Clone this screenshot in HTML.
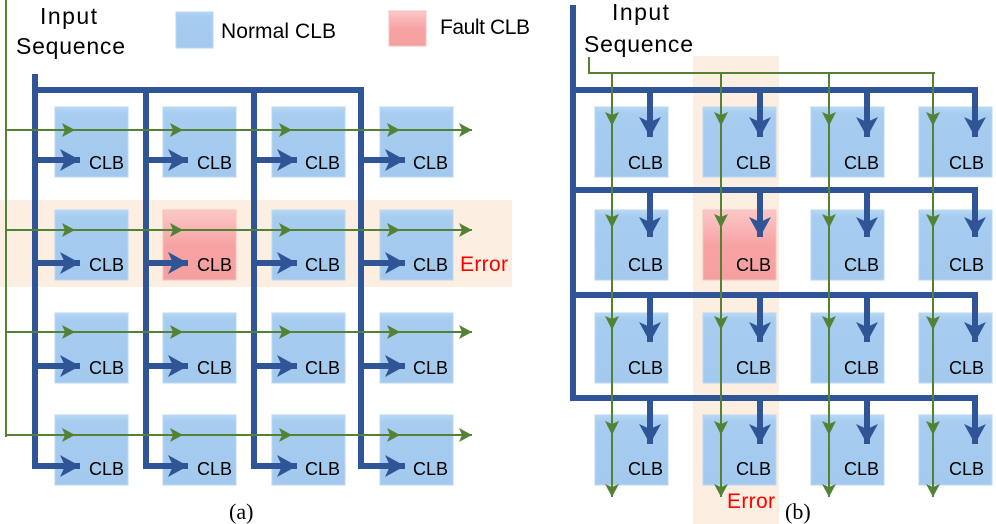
<!DOCTYPE html>
<html><head><meta charset="utf-8"><style>
html,body{margin:0;padding:0;background:#fff;}
svg{display:block;}
text{font-family:"Liberation Sans",sans-serif;}
</style></head><body>
<svg width="996" height="524" viewBox="0 0 996 524" xmlns="http://www.w3.org/2000/svg">
<defs>
<linearGradient id="bl" x1="0" y1="0" x2="0" y2="1"><stop offset="0" stop-color="#B7D8F5"/><stop offset="0.1" stop-color="#A6CCF0"/><stop offset="1" stop-color="#A3CAEE"/></linearGradient>
<linearGradient id="pk" x1="0" y1="0" x2="0" y2="1"><stop offset="0" stop-color="#FBC8C8"/><stop offset="0.5" stop-color="#F7A3A3"/><stop offset="1" stop-color="#F4A0A0"/></linearGradient>
<marker id="ba" markerUnits="userSpaceOnUse" markerWidth="22" markerHeight="24" refX="20" refY="12" orient="auto"><path d="M0,1 L20,12 L0,23 L5,12 Z" fill="#2F5597"/></marker>
<marker id="ga" markerUnits="userSpaceOnUse" markerWidth="14" markerHeight="14" refX="13" refY="7" orient="auto"><path d="M0,0 L13,7 L0,14 L3,7 Z" fill="#548235"/></marker>
</defs>
<rect x="0" y="200" width="512" height="87" fill="#FDEEE2"/>
<rect x="693" y="56" width="86" height="468" fill="#FDEEE2"/>
<rect x="176" y="12" width="37" height="36" fill="url(#bl)" stroke="#BBD7F0"/>
<text x="221" y="38" font-size="21" textLength="115">Normal CLB</text>
<rect x="389" y="11" width="37" height="35" fill="url(#pk)" stroke="#F8C0C0"/>
<text x="440" y="34" font-size="21" textLength="90">Fault CLB</text>
<text x="40" y="24" font-size="23" textLength="57">Input</text>
<text x="16" y="54" font-size="23" textLength="109">Sequence</text>
<text x="612" y="20" font-size="23" textLength="57">Input</text>
<text x="584" y="52" font-size="23" textLength="109">Sequence</text>
<g stroke="#BBD7F0" stroke-width="1" fill="url(#bl)">
<rect x="55" y="107" width="73" height="70"/><rect x="163" y="107" width="73" height="70"/><rect x="272" y="107" width="73" height="70"/><rect x="380" y="107" width="73" height="70"/>
<rect x="55" y="210" width="73" height="70"/><rect x="163" y="210" width="73" height="70" fill="url(#pk)" stroke="#F8C0C0"/><rect x="272" y="210" width="73" height="70"/><rect x="380" y="210" width="73" height="70"/>
<rect x="55" y="313" width="73" height="70"/><rect x="163" y="313" width="73" height="70"/><rect x="272" y="313" width="73" height="70"/><rect x="380" y="313" width="73" height="70"/>
<rect x="55" y="415" width="73" height="70"/><rect x="163" y="415" width="73" height="70"/><rect x="272" y="415" width="73" height="70"/><rect x="380" y="415" width="73" height="70"/>
</g>
<g stroke="#BBD7F0" stroke-width="1" fill="url(#bl)">
<rect x="595" y="107" width="73" height="70"/><rect x="703" y="107" width="73" height="70"/><rect x="811" y="107" width="73" height="70"/><rect x="919" y="107" width="73" height="70"/>
<rect x="595" y="210" width="73" height="70"/><rect x="703" y="210" width="73" height="70" fill="url(#pk)" stroke="#F8C0C0"/><rect x="811" y="210" width="73" height="70"/><rect x="919" y="210" width="73" height="70"/>
<rect x="595" y="313" width="73" height="70"/><rect x="703" y="313" width="73" height="70"/><rect x="811" y="313" width="73" height="70"/><rect x="919" y="313" width="73" height="70"/>
<rect x="595" y="415" width="73" height="70"/><rect x="703" y="415" width="73" height="70"/><rect x="811" y="415" width="73" height="70"/><rect x="919" y="415" width="73" height="70"/>
</g>
<g stroke="#2F5597" stroke-width="6" fill="none">
<path d="M35,74 V468"/><path d="M32,90 H364"/>
<path d="M146,90 V468"/><path d="M254,90 V468"/><path d="M361,90 V468"/>
</g>
<g stroke="#2F5597" stroke-width="6" marker-end="url(#ba)">
<line x1="35" y1="160" x2="80" y2="160"/><line x1="146" y1="160" x2="188" y2="160"/><line x1="254" y1="160" x2="297" y2="160"/><line x1="361" y1="160" x2="405" y2="160"/>
<line x1="35" y1="263" x2="80" y2="263"/><line x1="146" y1="263" x2="188" y2="263"/><line x1="254" y1="263" x2="297" y2="263"/><line x1="361" y1="263" x2="405" y2="263"/>
<line x1="35" y1="366" x2="80" y2="366"/><line x1="146" y1="366" x2="188" y2="366"/><line x1="254" y1="366" x2="297" y2="366"/><line x1="361" y1="366" x2="405" y2="366"/>
<line x1="32" y1="466" x2="80" y2="466"/><line x1="143" y1="466" x2="188" y2="466"/><line x1="251" y1="466" x2="297" y2="466"/><line x1="358" y1="466" x2="405" y2="466"/>
</g>
<g stroke="#548235" stroke-width="2" fill="none"><path d="M6,0 V437"/></g>
<g stroke="#548235" stroke-width="2">
<line x1="6" y1="130" x2="472" y2="130" marker-end="url(#ga)"/>
<line x1="6" y1="230" x2="472" y2="230" marker-end="url(#ga)"/>
<line x1="6" y1="332" x2="472" y2="332" marker-end="url(#ga)"/>
<line x1="6" y1="435" x2="472" y2="435" marker-end="url(#ga)"/>
</g>
<g fill="#548235">
<path d="M62,123 L75,130 L62,137 L65,130Z"/><path d="M170,123 L183,130 L170,137 L173,130Z"/><path d="M279,123 L292,130 L279,137 L282,130Z"/><path d="M387,123 L400,130 L387,137 L390,130Z"/>
<path d="M62,223 L75,230 L62,237 L65,230Z"/><path d="M170,223 L183,230 L170,237 L173,230Z"/><path d="M279,223 L292,230 L279,237 L282,230Z"/><path d="M387,223 L400,230 L387,237 L390,230Z"/>
<path d="M62,325 L75,332 L62,339 L65,332Z"/><path d="M170,325 L183,332 L170,339 L173,332Z"/><path d="M279,325 L292,332 L279,339 L282,332Z"/><path d="M387,325 L400,332 L387,339 L390,332Z"/>
<path d="M62,428 L75,435 L62,442 L65,435Z"/><path d="M170,428 L183,435 L170,442 L173,435Z"/><path d="M279,428 L292,435 L279,442 L282,435Z"/><path d="M387,428 L400,435 L387,442 L390,435Z"/>
</g>
<g stroke="#2F5597" stroke-width="6" fill="none">
<path d="M573,5 V401"/>
<path d="M570,90 H978"/><path d="M573,190 H978"/><path d="M573,295 H978"/><path d="M570,398 H978"/>
</g>
<g stroke="#2F5597" stroke-width="6" marker-end="url(#ba)">
<line x1="650" y1="90" x2="650" y2="137"/><line x1="760" y1="90" x2="760" y2="137"/><line x1="867" y1="90" x2="867" y2="137"/><line x1="975" y1="87" x2="975" y2="137"/>
<line x1="650" y1="190" x2="650" y2="237"/><line x1="760" y1="190" x2="760" y2="237"/><line x1="867" y1="190" x2="867" y2="237"/><line x1="975" y1="187" x2="975" y2="237"/>
<line x1="650" y1="295" x2="650" y2="342"/><line x1="760" y1="295" x2="760" y2="342"/><line x1="867" y1="295" x2="867" y2="342"/><line x1="975" y1="292" x2="975" y2="342"/>
<line x1="650" y1="398" x2="650" y2="444"/><line x1="760" y1="398" x2="760" y2="444"/><line x1="867" y1="398" x2="867" y2="444"/><line x1="975" y1="395" x2="975" y2="444"/>
</g>
<g stroke="#548235" stroke-width="2" fill="none"><path d="M589,57 V73 H935"/></g>
<g stroke="#548235" stroke-width="2">
<line x1="612" y1="73" x2="612" y2="497" marker-end="url(#ga)"/>
<line x1="721" y1="73" x2="721" y2="497" marker-end="url(#ga)"/>
<line x1="829" y1="73" x2="829" y2="497" marker-end="url(#ga)"/>
<line x1="933" y1="73" x2="933" y2="497" marker-end="url(#ga)"/>
</g>
<g fill="#548235">
<path d="M605,112 L612,126 L619,112 L612,115Z"/><path d="M714,112 L721,126 L728,112 L721,115Z"/><path d="M822,112 L829,126 L836,112 L829,115Z"/><path d="M926,112 L933,126 L940,112 L933,115Z"/>
<path d="M605,214 L612,228 L619,214 L612,217Z"/><path d="M714,214 L721,228 L728,214 L721,217Z"/><path d="M822,214 L829,228 L836,214 L829,217Z"/><path d="M926,214 L933,228 L940,214 L933,217Z"/>
<path d="M605,316 L612,330 L619,316 L612,319Z"/><path d="M714,316 L721,330 L728,316 L721,319Z"/><path d="M822,316 L829,330 L836,316 L829,319Z"/><path d="M926,316 L933,330 L940,316 L933,319Z"/>
<path d="M605,421 L612,435 L619,421 L612,424Z"/><path d="M714,421 L721,435 L728,421 L721,424Z"/><path d="M822,421 L829,435 L836,421 L829,424Z"/><path d="M926,421 L933,435 L940,421 L933,424Z"/>
</g>
<g font-size="18" fill="#000">
<text x="89" y="169">CLB</text><text x="197" y="169">CLB</text><text x="305" y="169">CLB</text><text x="413" y="169">CLB</text>
<text x="89" y="271">CLB</text><text x="197" y="271">CLB</text><text x="305" y="271">CLB</text><text x="413" y="271">CLB</text>
<text x="89" y="374">CLB</text><text x="197" y="374">CLB</text><text x="305" y="374">CLB</text><text x="413" y="374">CLB</text>
<text x="89" y="475">CLB</text><text x="197" y="475">CLB</text><text x="305" y="475">CLB</text><text x="413" y="475">CLB</text>
<text x="628" y="169">CLB</text><text x="736" y="169">CLB</text><text x="844" y="169">CLB</text><text x="949" y="169">CLB</text>
<text x="628" y="271">CLB</text><text x="736" y="271">CLB</text><text x="844" y="271">CLB</text><text x="949" y="271">CLB</text>
<text x="628" y="374">CLB</text><text x="736" y="374">CLB</text><text x="844" y="374">CLB</text><text x="949" y="374">CLB</text>
<text x="628" y="475">CLB</text><text x="736" y="475">CLB</text><text x="844" y="475">CLB</text><text x="949" y="475">CLB</text>
</g>
<text x="460" y="271" font-size="21" fill="#FF0000" textLength="48">Error</text>
<text x="727" y="508" font-size="21" fill="#FF0000" textLength="48">Error</text>
<text x="229" y="519" font-size="22" style="font-family:'Liberation Serif',serif">(a)</text>
<text x="785" y="519" font-size="22" style="font-family:'Liberation Serif',serif">(b)</text>
</svg>
</body></html>
